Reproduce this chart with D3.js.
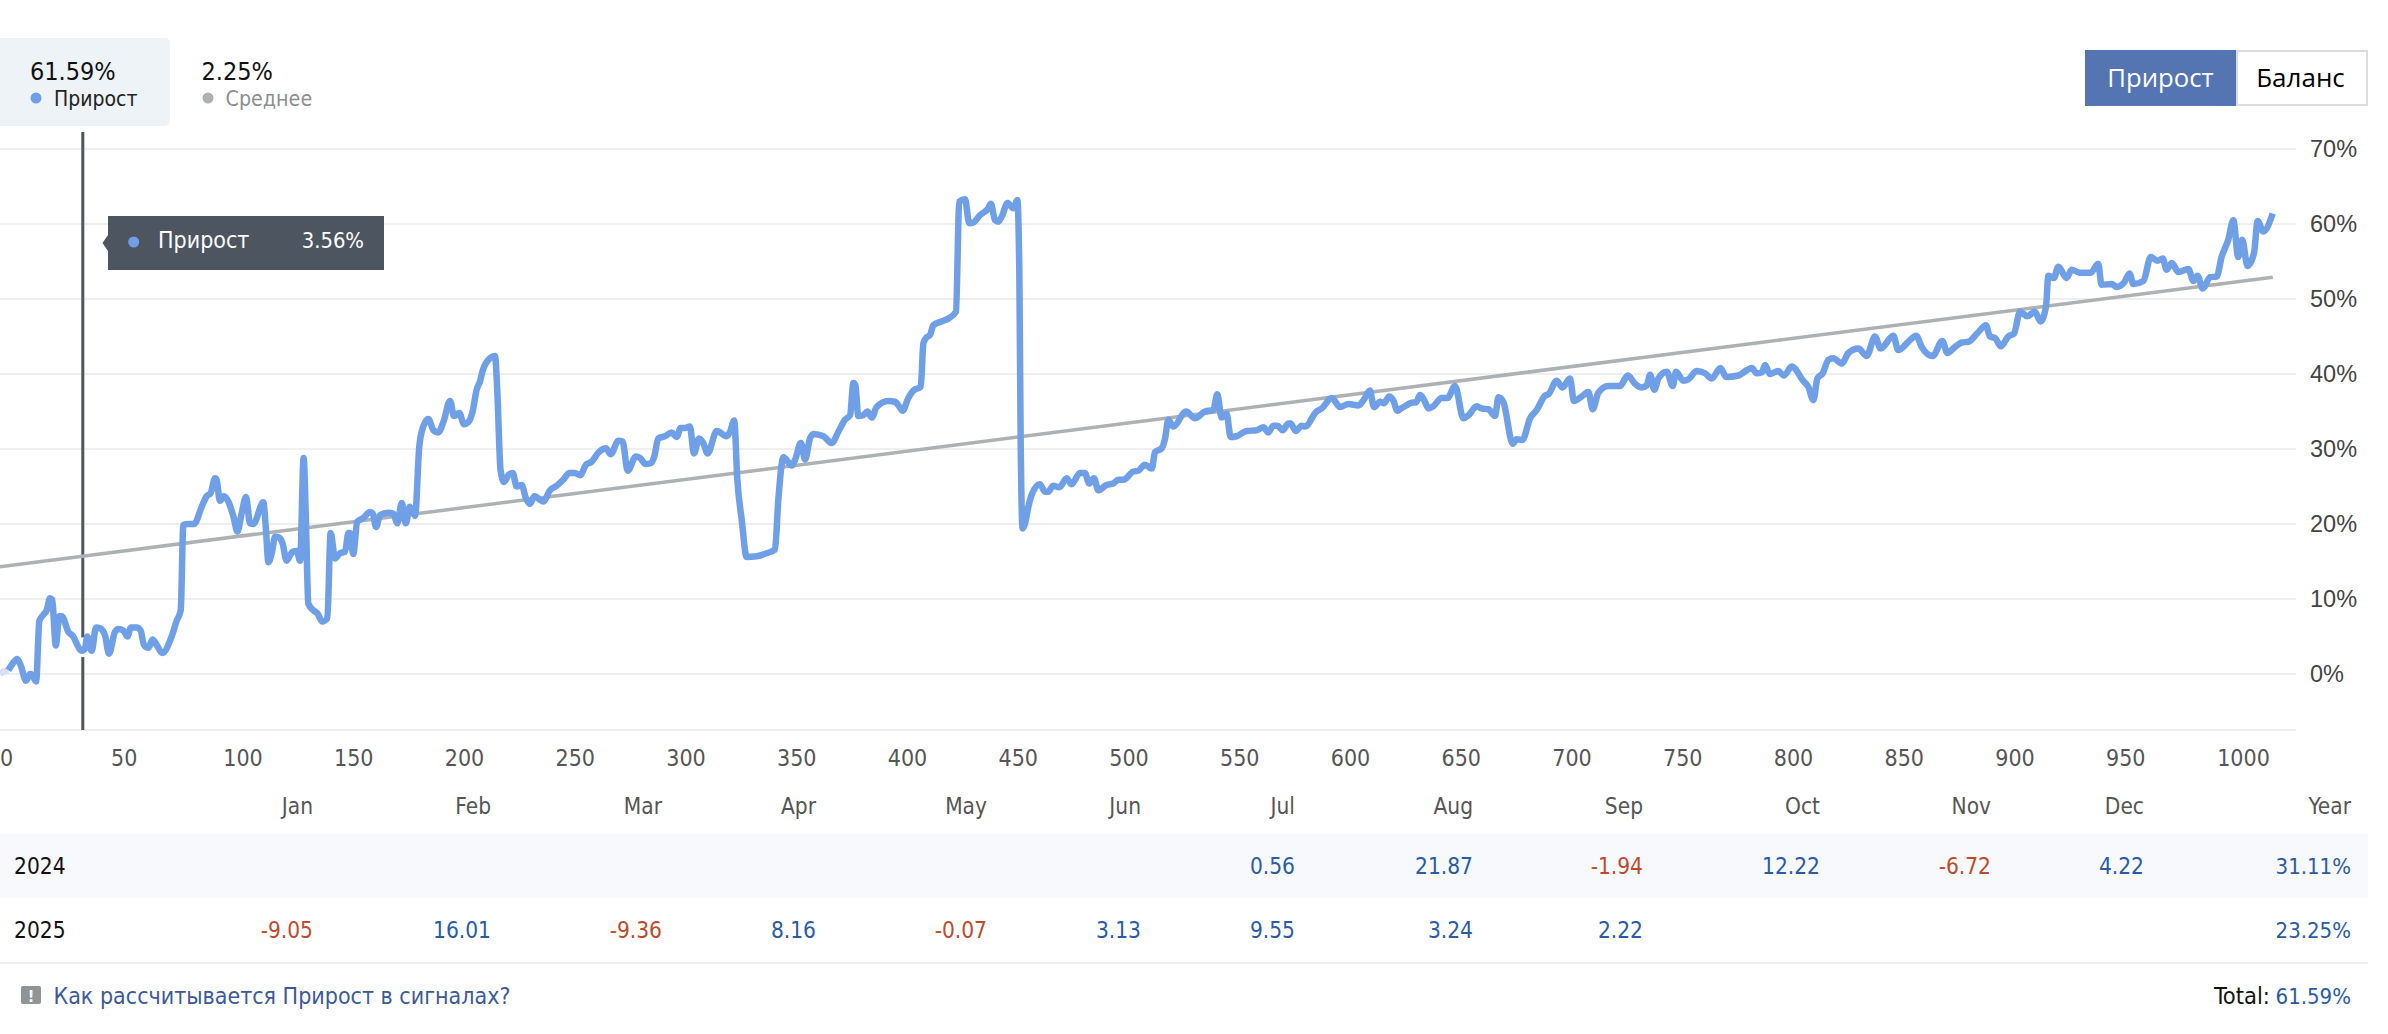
<!DOCTYPE html>
<html>
<head>
<meta charset="utf-8">
<script src="https://cdn.jsdelivr.net/npm/d3@7"></script>
<style>
  html, body { margin: 0; padding: 0; background: #fff; }
  svg { display: block; }
  text { font-family: "DejaVu Sans", sans-serif; font-stretch: condensed; }
</style>
</head>
<body>
<div id="chart"></div>
<script>
// growth line, x is the trade number, y is the percent
var growthX = [-9.5,-8.7,-5.7,-4.2,-1.7,-0.2,2.3,4.1,5,6.8,8.3,10.1,11.6,13.1,14.1,15.7,17.3,18.4,21.4,23.6,25.9,27.4,28.9,29.9,31.9,33.9,35.7,37.9,39.7,42.4,43.9,46.2,48,49.7,52.2,54,55.5,57.5,59.4,61.2,63.8,68,70.3,72.1,73.3,75.5,78.1,81.6,83.8,85.6,87.6,88.3,89.8,91.6,93.6,95.9,97.7,99.6,101.6,103.4,104.9,109.4,110.5,111.7,113.2,114.7,116.6,118.1,119.9,122.6,124.5,126,127.6,128.7,129.7,132,133.8,136,138.3,139.8,141.8,144,146.3,147.8,148.5,150,151.8,154.5,157.6,158.8,160.3,162.1,165.8,168.1,169.9,171.9,173.7,175.6,177.9,179.8,181.6,183.9,186.2,188.4,190.7,193.7,195.5,197.9,200,202,203.9,205.7,207.2,208.5,211.7,214,215,216.5,218.1,220,222,223.8,226,228,229.8,231.8,235.8,238.8,241.8,244.8,247.6,250.1,252.4,255.1,257.6,260.6,264.1,266.2,269.7,271.6,273.9,277.6,279.5,282,284.3,285.9,287.7,290.7,293.8,296,297.8,299.8,302,303.8,306.1,308,310,314.1,318.6,320.1,322,323.4,325.4,327.6,332.1,336.6,340.4,341.9,344.2,348,349.4,352.1,354,356.2,357.7,362.3,366,369,372,374.3,375.8,376.7,378,380.3,382.1,384.1,386.3,391.6,394.6,396.4,398,400.6,402.9,406.2,407.4,408.6,410.4,411.9,415.6,418.7,422.1,423.6,426.2,428.1,430,433,436.7,437.8,439.8,441.2,442.8,445.4,448,449.8,450.7,451.3,452.2,453.3,454.8,456.3,460,462.3,463.8,466,468.8,472.1,474.3,478.1,480.3,482.3,484.4,486.4,490.1,493.1,495.4,497.7,502.2,504.4,507.4,510.5,512,515,516.5,518,520.2,526,530,534.5,538.3,540.1,542,544.3,546.1,548.8,553.3,557.9,560.9,563.1,565.4,567.2,569.6,572.2,573.2,575.5,578.2,579.7,584.9,587.2,591.8,595.5,599.3,603.8,606.1,609,610.8,613.6,615.3,617.7,619.5,621.4,622.6,624.8,628.3,629.8,631.6,633.5,635.4,637.6,641.4,644,647.4,651.2,653.5,657.2,659.5,662.5,665.5,667,669.2,673.5,675.2,677.8,681.3,684.3,688,689.6,693.3,695.9,699.3,701.1,704.6,707.6,709.6,712.1,716.6,721.9,725.4,728.7,731.7,734,735.5,737.4,739.2,743,745.7,747.2,750.5,752.8,756.5,760.3,763.3,767.3,769.8,775.3,779.1,781.4,783.6,785.9,787.4,789.5,793.3,795.9,799.4,804.6,806.9,809.2,811,813.4,816,818.2,822,825,829.5,833.3,837,839.6,845.3,847.5,852.1,855.6,858.1,863.1,867.4,869.7,873.1,876.2,879.2,883.4,887.1,888.9,891.2,893.8,897.2,899.8,902.5,905.8,909.2,911.8,914.2,915.3,917.8,919.8,923.5,925.8,929.6,934.4,937.8,939.3,943.9,946.1,949.5,951.9,953.7,958.2,961.5,964.5,966.9,968.7,971,974,978.5,980.8,982.6,985,988.3,991.3,993.5,996.5,998.8,1001,1002.8,1005.2,1008.1,1009.8,1012.3,1016.6];
var growthY = [0,0.2,0.5,1.2,2,1.2,-0.9,0,-0.1,-1,7.1,7.9,8.5,10.1,9.9,3.8,7.7,7.7,5.6,5,3.6,3.1,3.4,5,3.1,6.2,6.1,5.2,2.7,5.6,6,5.8,5,6.2,6.2,5.8,3.9,3.5,4.6,3.9,2.8,5,7.1,8.5,19.9,20,20,22.3,23.7,24.1,26.1,25.9,23.1,23.7,23,21,19,21.4,23.6,20.1,20,22.9,19.6,14.9,16.1,18.3,18.2,17.4,15.1,16.3,16.4,15.1,28.8,19.6,9.4,8.5,8.1,7,7.4,18.8,15.4,16.1,16.3,18.8,18.8,16,20.3,20.8,21.6,21.4,19.6,21.2,21.5,21.4,20.1,22.8,20.1,22.3,21.1,30.3,33,34,32.5,32.2,33.6,36.4,34.4,34.8,33.3,33.6,35,37.9,39,40.5,42.1,42.4,37.9,27.2,25.6,26.5,26.8,25,25.2,23.4,22.7,23.7,23,24.5,25.1,25.9,26.8,26.8,26.5,27.9,28.3,29.5,30.1,29.3,31.1,31,27.1,29,28.8,28,28.1,29,31.4,31.7,32.2,31.6,32.8,32.8,33,29.4,31.4,30.8,29.4,32.4,31.7,32.3,33.8,25.9,20.5,15.6,15.7,16.1,16.6,23.2,28.9,27.8,28.5,30.8,28.6,31.4,32,31.7,30.8,32.3,33.9,34.5,38.8,38.5,34.4,34.5,35,34.2,35.6,36.4,36.3,35.7,35.1,36.8,37.8,38.3,44.1,44.8,45.2,46.5,47,47.4,48.3,63,63.3,60.1,60.2,61.2,62.1,62.7,60.5,60.3,61,62.8,62.1,63.2,53.9,31.6,19.4,20.1,22.3,23.9,25.3,24.3,24.3,25.1,24.9,26.1,25.3,26.8,26.8,25.4,26.1,24.5,25.2,25.4,25.9,25.9,27,27.1,27.9,27.4,29.6,30.1,31.4,33.9,33,35,34.1,35,35.2,37.3,34.2,34.7,31.6,31.7,32.4,32.5,32.9,32.2,33.1,33.1,32.5,33.4,33.4,32.4,33.1,33,35,35.4,36.8,35.6,36,35.8,36.5,37.8,35.6,36.3,36.1,37,36.5,35.1,35.3,35.7,36.2,36.2,37.2,36.5,35.4,35.7,36.8,36.8,38.4,34.1,34.5,35.7,35.4,35.3,34.4,36.9,36.3,30.7,31.3,31.2,34.1,35.2,37.1,37.3,39.1,38.2,39.4,36.4,37,37.6,35.3,37.5,38.4,38.4,39.8,38.7,38.2,38.5,39.9,37.9,39.4,40.3,38.4,40.3,39.1,39.3,40.4,40.1,39.4,40.8,39.6,39.8,40.5,40.8,40.1,40.2,41.2,40,40.4,39.8,41,39.1,38.3,36.5,39.4,40.1,41.9,42.1,41.4,42.8,43.4,42.4,45,43.4,45.1,43.2,44.3,45.1,43.6,42.4,44.4,42.8,43.6,44.2,44.3,45.5,46.5,45,44.8,43.7,45,45.4,48.3,47.7,48.3,47,49,53.1,52.8,54.3,52.8,53.9,53.5,53.5,54.7,51.9,52,51.6,52.2,53.4,52,52.4,55.6,55.1,55.4,53.9,54.8,53.6,54,52.4,53.1,51.4,52.9,53,55.6,57.9,60.5,55.6,57.9,54.4,56.1,60.4,59,61.4];

// average trend line, two ends
var trendX = [-9.5, 1016.6];
var trendY = [14.3, 52.9];

var xTicks = [0,50,100,150,200,250,300,350,400,450,500,550,600,650,700,750,800,850,900,950,1000];
var yTicks = [0,10,20,30,40,50,60,70];

var hoverX = 27.9;
var hoverY = 3.56;

// monthly table
var months = ["Jan","Feb","Mar","Apr","May","Jun","Jul","Aug","Sep","Oct","Nov","Dec"];
var monthRight = [313,491,662,816,987,1141,1295,1473,1643,1820,1991,2144];
var returns2024 = [null,null,null,null,null,null,0.56,21.87,-1.94,12.22,-6.72,4.22];
var returns2025 = [-9.05,16.01,-9.36,8.16,-0.07,3.13,9.55,3.24,2.22,null,null,null];
var yearTotal2024 = "31.11%";
var yearTotal2025 = "23.25%";

var BLUE = "#6f9fe6";
var GREY = "#adb1b3";
var DARK = "#4d5561";
var GRID = "#efefef";
var POS = "#2a5ba5";
var NEG = "#bf4a2a";

var svg = d3.select("#chart").append("svg")
  .attr("width", 2388)
  .attr("height", 1034);

var x = d3.scaleLinear().domain([0, 1000]).range([21, 2236]);
var y = d3.scaleLinear().domain([0, 70]).range([674, 149]);

// header tabs
svg.append("path")
  .attr("d", "M0,38H165a5,5 0 0 1 5,5V121a5,5 0 0 1 -5,5H0Z")
  .attr("fill", "#eef3f8");

function label(g, px, py, txt, size, color, anchor) {
  return g.append("text")
    .attr("x", px).attr("y", py)
    .attr("font-size", size)
    .attr("fill", color)
    .attr("text-anchor", anchor || "start")
    .text(txt);
}

label(svg, 30, 80, "61.59%", 25, "#111");
svg.append("circle").attr("cx", 36).attr("cy", 98).attr("r", 5.5).attr("fill", BLUE);
label(svg, 54, 106, "Прирост", 21, "#222");
label(svg, 201.5, 80, "2.25%", 25, "#111");
svg.append("circle").attr("cx", 208).attr("cy", 98).attr("r", 5.5).attr("fill", GREY);
label(svg, 225.5, 106, "Среднее", 21.3, "#8c8f91");

// buttons
svg.append("rect").attr("x", 2237).attr("y", 51).attr("width", 130).attr("height", 54)
  .attr("fill", "#fff").attr("stroke", "#dcdcdc").attr("stroke-width", 2);
svg.append("rect").attr("x", 2085).attr("y", 50).attr("width", 151).attr("height", 56)
  .attr("fill", "#5474b2");
label(svg, 2160.5, 87, "Прирост", 25.7, "#fff", "middle").style("font-family", "'Open Sans'").style("font-stretch", "normal");
label(svg, 2300.5, 87, "Баланс", 26, "#000", "middle").style("font-family", "'Open Sans'").style("font-stretch", "normal");

// grid
svg.append("g").selectAll("line").data(yTicks).join("line")
  .attr("x1", 0).attr("x2", 2296)
  .attr("y1", d => y(d)).attr("y2", d => y(d))
  .attr("stroke", GRID).attr("stroke-width", 2);

svg.append("line").attr("x1", 0).attr("x2", 2296).attr("y1", 730).attr("y2", 730)
  .attr("stroke", "#eeeeee").attr("stroke-width", 2);

// axes
var yAxis = svg.append("g")
  .attr("transform", "translate(2310,0)")
  .call(d3.axisRight(y).tickValues(yTicks).tickSize(0).tickPadding(0).tickFormat(d => d + "%"));
yAxis.select(".domain").remove();
yAxis.selectAll("text")
  .attr("font-size", 23.5).attr("fill", "#444")
  .style("font-family", "'Liberation Sans'").style("font-stretch", "normal");

var xAxis = svg.append("g")
  .attr("transform", "translate(0,730)")
  .call(d3.axisBottom(x).tickValues(xTicks).tickSize(0).tickPadding(0).tickFormat(d => d));
xAxis.select(".domain").remove();
xAxis.selectAll("text")
  .attr("font-size", 23).attr("fill", "#555").attr("y", 36).attr("dy", 0)
  .attr("dx", d => d == 0 ? -15 : d == 50 ? -8 : d == 1000 ? 7 : 0);

// crosshair under the lines
svg.append("line")
  .attr("x1", x(hoverX)).attr("x2", x(hoverX))
  .attr("y1", 132).attr("y2", 730)
  .attr("stroke", DARK).attr("stroke-width", 3);

var trendPts = trendX.map((d, i) => [d, trendY[i]]);
var growthPts = growthX.map((d, i) => [d, growthY[i]]);

var line = d3.line()
  .x(d => x(d[0]))
  .y(d => y(d[1]));

svg.append("path")
  .attr("d", line(trendPts))
  .attr("fill", "none").attr("stroke", GREY).attr("stroke-width", 3.5);

// white halo of the hovered point, it cuts the crosshair
svg.append("circle")
  .attr("cx", x(hoverX)).attr("cy", y(hoverY)).attr("r", 10)
  .attr("fill", "#fff");

var curved = d3.line()
  .x(d => x(d[0]))
  .y(d => y(d[1]))
  .curve(d3.curveMonotoneX);

// the first bit of the line is faded
svg.append("path")
  .attr("d", curved(growthPts.slice(0, 3)))
  .attr("fill", "none").attr("stroke", "#d5dff5").attr("stroke-width", 6.5);
svg.append("path")
  .attr("d", curved(growthPts.slice(2)))
  .attr("fill", "none").attr("stroke", BLUE).attr("stroke-width", 6.5)
  .attr("stroke-linejoin", "round");

// tooltip
var tip = svg.append("g");
tip.append("path").attr("d", "M108,235L102.5,243L108,251Z").attr("fill", DARK);
tip.append("rect").attr("x", 108).attr("y", 216).attr("width", 276).attr("height", 54).attr("fill", DARK);
tip.append("circle").attr("cx", 133.7).attr("cy", 242).attr("r", 5.5).attr("fill", BLUE);
label(tip, 158, 248, "Прирост", 23, "#fff");
label(tip, 364, 248, hoverY.toFixed(2) + "%", 21.8, "#fff", "end");

// table
svg.append("rect").attr("x", 0).attr("y", 834).attr("width", 2368).attr("height", 64).attr("fill", "#f8f9fd");
svg.append("line").attr("x1", 0).attr("x2", 2368).attr("y1", 963).attr("y2", 963)
  .attr("stroke", "#eef0f3").attr("stroke-width", 2);

months.forEach((m, i) => {
  label(svg, monthRight[i], 814, m, 22.5, "#555", "end");
});
label(svg, 2351, 814, "Year", 22.5, "#555", "end");

function tableRow(year, values, total, base) {
  label(svg, 14, base, year, 22.5, "#111");
  values.forEach((v, i) => {
    if (v === null) return;
    label(svg, monthRight[i], base, v.toFixed(2), 22.5, v < 0 ? NEG : POS, "end");
  });
  label(svg, 2351, base, total, 22, POS, "end");
}
tableRow("2024", returns2024, yearTotal2024, 874);
tableRow("2025", returns2025, yearTotal2025, 938);

// footer
svg.append("rect").attr("x", 21).attr("y", 986).attr("width", 20).attr("height", 18).attr("rx", 2).attr("fill", "#8f9496");
label(svg, 31, 1002, "!", 16, "#fff", "middle").attr("font-weight", 700);
label(svg, 53.5, 1004, "Как рассчитывается Прирост в сигналах?", 23, "#3c5a9a");
label(svg, 2270, 1004, "Total:", 23.5, "#111", "end");
label(svg, 2351, 1004, "61.59%", 22, POS, "end");
</script>
</body>
</html>
